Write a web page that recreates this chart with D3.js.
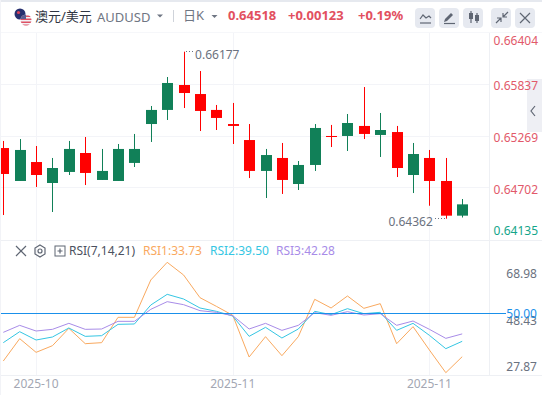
<!DOCTYPE html>
<html><head><meta charset="utf-8">
<script src="https://cdnjs.cloudflare.com/ajax/libs/d3/7.8.5/d3.min.js"></script>
<style>html,body{margin:0;padding:0;background:#fff}svg{display:block}text{font-family:"Noto Sans","Noto Sans CJK SC",sans-serif}</style>
</head><body><div id="c"></div>
<script>
const opens =[.65130,.64772,.64978,.64750,.64870,.65076,.64783,.64772,.64968,.65391,.65544,.65815,.65717,.65544,.65391,.65217,.64881,.65022,.64739,.64946,.65261,.65261,.65370,.65272,.65304,.64837,.65022,.64772,.64395];
const highs =[.65207,.65228,.65152,.65022,.65207,.65250,.65120,.65174,.65283,.65587,.65902,.66177,.65967,.65598,.65620,.65391,.65120,.65185,.64989,.65391,.65381,.65500,.65793,.65511,.65370,.65185,.65109,.65022,.64576];
const lows  =[.64402,.64772,.64707,.64435,.64837,.64728,.64783,.64772,.64924,.65196,.65435,.65565,.65315,.65326,.65174,.64804,.64587,.64631,.64674,.64881,.65141,.65098,.65228,.65033,.64815,.64641,.64503,.64362,.64375];
const closes=[.64848,.65109,.64837,.64913,.65120,.64859,.64881,.65120,.65120,.65544,.65837,.65728,.65533,.65457,.65370,.64881,.65054,.64783,.64946,.65348,.65250,.65402,.65283,.65326,.64913,.65065,.64772,.64395,.64518];
const rsi1=[32.11,40.49,35.36,37.86,44.36,38.61,38.99,48.49,48.49,62.49,69.11,64.36,55.86,52.61,49.24,33.61,41.24,34.11,41.24,55.24,51.99,56.49,51.86,53.61,38.61,44.99,36.24,27.74,33.73];
const rsi2=[38.99,43.11,39.99,41.11,44.49,41.36,41.61,45.86,45.99,53.11,57.11,55.36,51.99,50.74,48.99,41.36,44.74,40.74,44.11,50.74,49.49,51.74,49.86,50.36,43.61,46.24,41.74,36.74,39.50];
const rsi3=[42.86,45.49,43.36,43.99,46.24,43.99,44.11,46.99,46.99,51.49,54.36,53.24,50.99,50.36,49.11,44.11,46.24,43.61,45.49,50.24,49.24,50.61,49.36,49.86,45.49,47.11,43.99,40.61,42.28];
const priceTicks=["0.66404","0.65837","0.65269","0.64702","0.64135"];
const rsiTicks=["68.98","48.43","27.87"];
const dateLabels=[[2,"2025-10"],[14,"2025-11"],[26,"2025-11"]];

const W=542,H=395;
const svg=d3.select("#c").append("svg").attr("width",W).attr("height",H);
const x=d3.scaleLinear().domain([0,28]).range([3.3,462.2]);
const y=d3.scaleLinear().domain([.66177,.64362]).range([51.7,218.7]);
const yR=d3.scaleLinear().domain([50,33.73]).range([313.3,356.7]);
const UP="#118058",DOWN="#ff0000",GRID="#f3f4f8",TXT="#6b7280";

// chrome
svg.append("rect").attr("width",W).attr("height",2).attr("fill","#e6e9ef");
svg.append("rect").attr("width",1).attr("height",H).attr("fill","#f2f3f7");
svg.append("rect").attr("x",1).attr("y",32).attr("width",W).attr("height",1).attr("fill","#f6f7fa");
svg.append("rect").attr("x",527).attr("y",79).attr("width",15).attr("height",53).attr("fill","#eeeff4");

// grid
const g=svg.append("g");
const gridPrice=d3.scaleOrdinal().domain(priceTicks).range([33,84.5,136.5,187.5,240]);
priceTicks.slice(1,4).forEach(t=>g.append("rect").attr("x",1).attr("y",gridPrice(t)-.5).attr("width",488).attr("height",1).attr("fill",GRID));
dateLabels.forEach(d=>g.append("rect").attr("x",Math.round(x(d[0]))).attr("y",33).attr("width",1).attr("height",342).attr("fill",GRID));
g.append("rect").attr("x",489).attr("y",33).attr("width",1).attr("height",207).attr("fill","#eef0f4");
g.append("rect").attr("x",489).attr("y",240).attr("width",1).attr("height",135).attr("fill","#eef0f4");
g.append("rect").attr("x",1).attr("y",240).attr("width",W).attr("height",1).attr("fill","#eef0f4");
g.append("rect").attr("x",1).attr("y",375).attr("width",W).attr("height",1).attr("fill","#eef0f4");

// clip
svg.append("clipPath").attr("id","cl").append("rect").attr("x",1).attr("y",33).attr("width",488).attr("height",342);
const plot=svg.append("g").attr("clip-path","url(#cl)");

// candles
const idx=d3.range(opens.length);
const col=i=>closes[i]>=opens[i]?UP:DOWN;
plot.selectAll(".w").data(idx).join("rect").attr("class","w")
 .attr("x",i=>Math.round(x(i))).attr("width",1)
 .attr("y",i=>y(highs[i])).attr("height",i=>y(lows[i])-y(highs[i])).attr("fill",col);
plot.selectAll(".b").data(idx).join("rect").attr("class","b")
 .attr("x",i=>Math.round(x(i))-5).attr("width",11)
 .attr("y",i=>Math.min(y(opens[i]),y(closes[i])))
 .attr("height",i=>Math.max(1,Math.abs(y(opens[i])-y(closes[i])))).attr("fill",col);

// extreme annotations
const hi=d3.max(highs),lo=d3.min(lows),iH=highs.indexOf(hi),iL=lows.indexOf(lo);
plot.append("line").attr("x1",Math.round(x(iH))+2).attr("x2",Math.round(x(iH))+10).attr("y1",Math.floor(y(hi))+.5).attr("y2",Math.floor(y(hi))+.5).attr("stroke","#6b7280").attr("stroke-dasharray","1 2");
svg.append("text").attr("x",x(iH)+11.5).attr("y",y(hi)+7.2).attr("font-size",12).attr("fill",TXT).text(d3.format(".5f")(hi));
plot.append("line").attr("x1",Math.round(x(iL))-11).attr("x2",Math.round(x(iL))).attr("y1",Math.floor(y(lo))+.5).attr("y2",Math.floor(y(lo))+.5).attr("stroke","#6b7280").attr("stroke-dasharray","1 2");
svg.append("text").attr("x",x(iL)-13).attr("y",y(lo)+7).attr("text-anchor","end").attr("font-size",12).attr("fill",TXT).text(d3.format(".5f")(lo));

// RSI
const line=d3.line().x((d,i)=>x(i)).y(d=>yR(d));
[[rsi1,"#f9a95f"],[rsi2,"#35c6e3"],[rsi3,"#a88ce8"]].forEach(s=>plot.append("path").attr("d",line(s[0])).attr("fill","none").attr("stroke",s[1]).attr("stroke-width",1));
const y50=Math.floor(yR(50))+.5;
svg.append("line").attr("x1",1).attr("x2",506).attr("y1",y50).attr("y2",y50).attr("stroke","#1a90ea").attr("stroke-width",1);

// price labels
const labelY=d3.scaleOrdinal().domain(priceTicks).range([41,86,138,189.5,230.5]);
priceTicks.forEach((t,i)=>svg.append("text").attr("x",538).attr("y",labelY(t)).attr("dy",".35em").attr("text-anchor","end").attr("font-size",12).attr("fill",i==4?"#14a58a":"#e2596a").text(t));
const rsiLY=d3.scaleOrdinal().domain(rsiTicks).range([274,321,367]);
rsiTicks.forEach(t=>svg.append("text").attr("x",537).attr("y",rsiLY(t)).attr("dy",".35em").attr("text-anchor","end").attr("font-size",12).attr("fill",TXT).text(t));
svg.append("text").attr("x",537).attr("y",yR(50)).attr("dy",".35em").attr("text-anchor","end").attr("font-size",12).attr("fill","#1a90ea").text("50.00");
dateLabels.forEach(d=>svg.append("text").attr("x",x(d[0])).attr("y",384).attr("dy",".35em").attr("text-anchor","middle").attr("font-size",12).attr("fill","#a3a7b3").text(d[1]));

// header
const T=(xx,yy,s,f,c,w)=>svg.append("text").attr("x",xx).attr("y",yy).attr("dy",".35em").attr("font-size",f).attr("fill",c).attr("font-weight",w||400).text(s);
// flags
const fl=svg.append("g");
fl.append("clipPath").attr("id","us").append("circle").attr("cx",26).attr("cy",20).attr("r",5.5);
fl.append("circle").attr("cx",20).attr("cy",14).attr("r",5.5).attr("fill","#27306f");
fl.append("circle").attr("cx",18.5).attr("cy",12.5).attr("r",1.6).attr("fill","#d8415a");
fl.append("circle").attr("cx",26).attr("cy",20).attr("r",5.5).attr("fill","#f2f2f5");
const us=fl.append("g").attr("clip-path","url(#us)");
[15.5,18.5,21.5,24.5].forEach(v=>us.append("rect").attr("x",20).attr("y",v).attr("width",12).attr("height",1.5).attr("fill","#de5064"));
us.append("rect").attr("x",20).attr("y",14).attr("width",6).attr("height",5).attr("fill","#5a5f92");
T(35,16,"澳元/美元",13,"#2f3542");
T(97,17,"AUDUSD",13,"#6f7683");
const tri=(cx,cy)=>svg.append("path").attr("d",`M${cx-3},${cy-1.5}h6l-3,3z`).attr("fill","#6f7683");
tri(160,16);tri(214.5,16.5);
svg.append("rect").attr("x",173).attr("y",10).attr("width",1).attr("height",12).attr("fill","#cfd3da");
T(183,15.5,"日K",13,"#6f7683");
T(228,15,"0.64518",13,"#e2505f",700);
T(288,15,"+0.00123",13,"#e2505f",700);
T(358,15,"+0.19%",13,"#e2505f",700);
// buttons
[415,439,463,491,515].forEach(b=>svg.append("rect").attr("x",b).attr("y",8).attr("width",20).attr("height",20).attr("rx",4).attr("fill","#e6e9f0"));
const IC="#5f6673";
const P=(d,o)=>svg.append("path").attr("d",d).attr("fill",(o&&o.fill)||"none").attr("stroke",(o&&o.fill)?"none":IC).attr("stroke-width",1.2);
P("M420,19l3,-4 3,3 3,-2 2,2");P("M420,23h11");
P("M444,22l1,-3 6,-6 2,2 -6,6z",{fill:IC});P("M444,23.5h11",{});
P("M469,13h4v6h-4z",{fill:IC});P("M475,15h4v6h-4z",{fill:IC});
P("M471,11v12M477,13v10");
P("M503,17l5,-5M503,13v4h4M496,23l5,-5M497,18h4v4");
P("M520,13l10,10M530,13l-10,10");
P("M535,106l-4,5 4,5");
// RSI legend
P("M16,246l10,10M26,246l-10,10");
P("M40,245l5,3v6l-5,3 -5,-3v-6z");svg.append("circle").attr("cx",40).attr("cy",251).attr("r",2).attr("fill","none").attr("stroke",IC).attr("stroke-width",1.2);
svg.append("rect").attr("x",55).attr("y",246).attr("width",10).attr("height",10).attr("fill","none").attr("stroke",IC);
P("M57.5,251h5M60,248.5v5");
T(69,251,"RSI(7,14,21)",12,"#4b5160");
T(143,251,"RSI1:33.73",12,"#f9a95f");
T(210,251,"RSI2:39.50",12,"#35c6e3");
T(276,251,"RSI3:42.28",12,"#a88ce8");
</script></body></html>
